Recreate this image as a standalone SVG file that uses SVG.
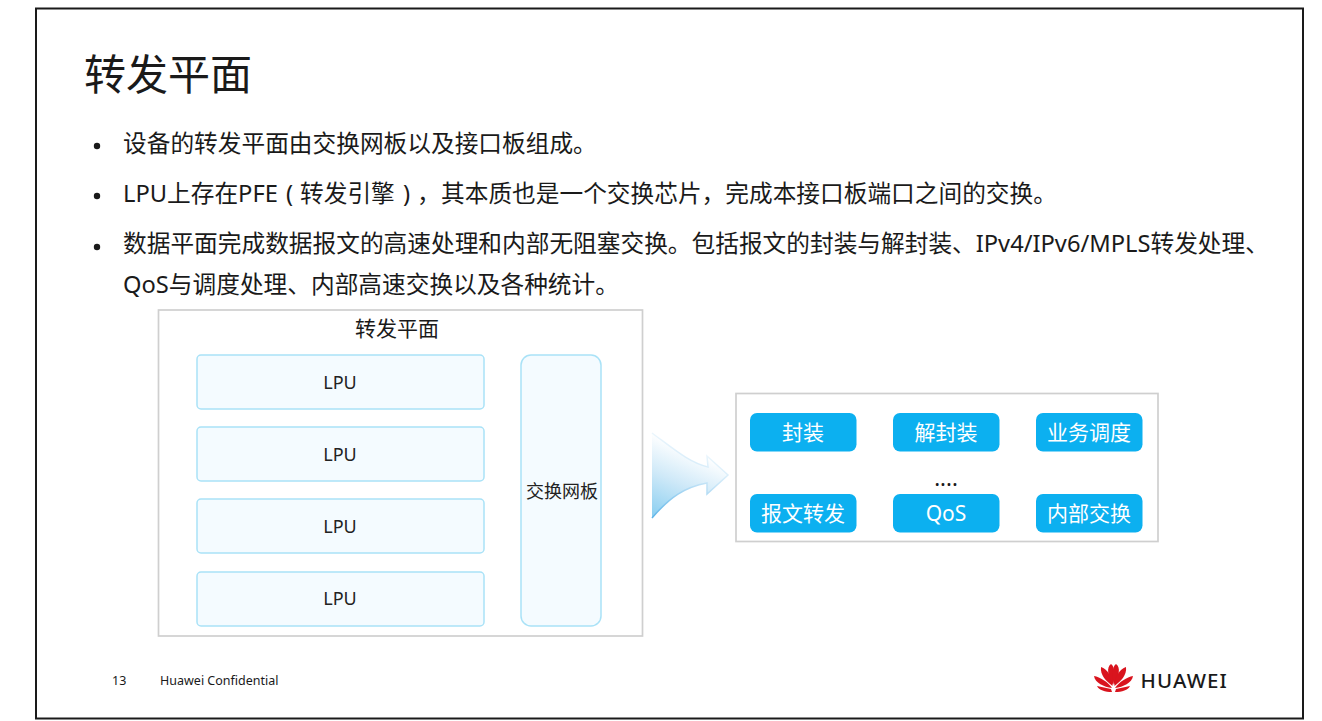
<svg xmlns="http://www.w3.org/2000/svg" width="1322" height="721" viewBox="0 0 1322 721">
<style>
text{font-family:"Noto Sans","Noto Sans CJK SC",sans-serif;fill:#1a1a1a}
.b{font-size:23.700px}
.l{font-size:18px;text-anchor:middle;fill:#222}
.w{font-size:21px;text-anchor:middle;fill:#fff}
.lpu{fill:#f4fbff;stroke:#a9e2f7;stroke-width:1.500}
.g{fill:#fff;stroke:#cfcfcf;stroke-width:1.700}
.bl{fill:#0cb0f0}
.d{fill:#1a1a1a}
</style>
<defs>
<linearGradient id="ag" gradientUnits="userSpaceOnUse" x1="655" y1="520" x2="690" y2="440"><stop offset="0" stop-color="#86cdf0"/><stop offset="0.500" stop-color="#cfe9f8"/><stop offset="0.900" stop-color="#ffffff"/></linearGradient>
<linearGradient id="as" gradientUnits="userSpaceOnUse" x1="655" y1="520" x2="690" y2="435"><stop offset="0" stop-color="#5db4e8"/><stop offset="0.500" stop-color="#b8def5"/><stop offset="0.950" stop-color="#f6fbfe"/></linearGradient>
</defs>
<rect width="1322" height="721" fill="#fff"/>
<rect x="36" y="8.500" width="1267" height="710" fill="#fff" stroke="#1a1a1a" stroke-width="2"/>
<g id="title"><text x="84" y="90" font-size="42">转发平面</text></g>
<g id="bullets">
<circle class="d" cx="97" cy="146" r="3.200"/>
<text class="b" x="123" y="152">设备的转发平面由交换网板以及接口板组成。</text>
<circle class="d" cx="97" cy="196" r="3.200"/>
<text class="b" y="202"><tspan x="123">LPU上存在PFE</tspan><tspan x="286">(</tspan><tspan x="300">转发引擎</tspan><tspan x="403">)</tspan><tspan x="417">，</tspan><tspan x="441">其本质也是一个交换芯片，完成本接口板端口之间的交换。</tspan></text>
<circle class="d" cx="97" cy="247" r="3.200"/>
<text class="b" x="123" y="252">数据平面完成数据报文的高速处理和内部无阻塞交换。包括报文的封装与解封装、IPv4/IPv6/MPLS转发处理、</text>
<text class="b" x="123" y="293">QoS与调度处理、内部高速交换以及各种统计。</text>
</g>
<g id="forwarding-plane"><rect class="g" x="158.500" y="310" width="484" height="326"/><text x="397" y="336" font-size="21" text-anchor="middle" fill="#222">转发平面</text></g>
<g id="lpu-1"><rect class="lpu" x="197" y="355" width="287" height="54" rx="4"/><text class="l" x="340" y="388.500">LPU</text></g>
<g id="lpu-2"><rect class="lpu" x="197" y="427" width="287" height="54" rx="4"/><text class="l" x="340" y="460.500">LPU</text></g>
<g id="lpu-3"><rect class="lpu" x="197" y="499" width="287" height="54" rx="4"/><text class="l" x="340" y="532.500">LPU</text></g>
<g id="lpu-4"><rect class="lpu" x="197" y="572" width="287" height="54" rx="4"/><text class="l" x="340" y="604.500">LPU</text></g>
<g id="fabric"><rect class="lpu" x="521" y="355" width="80" height="271" rx="10"/><text class="l" x="562" y="498">交换网板</text></g>
<g id="connectors"><path d="M652 433C675 450 690 463 708 467L707 456L728 475L707 494L707 483C685 487 670 497 652 518Z" fill="url(#ag)"/><path d="M652 433C675 450 690 463 708 467L707 456L728 475L707 494L707 483C685 487 670 497 652 518" fill="none" stroke="url(#as)" stroke-width="1.500"/></g>
<g id="function-panel"><rect class="g" x="736" y="393.500" width="422" height="148"/><text x="946" y="486" font-size="22" text-anchor="middle" fill="#111">....</text></g>
<g id="encap"><rect class="bl" x="750" y="413" width="106.500" height="38.500" rx="7"/><text class="w" x="803" y="440">封装</text></g>
<g id="decap"><rect class="bl" x="893" y="413" width="106.500" height="38.500" rx="7"/><text class="w" x="946" y="440">解封装</text></g>
<g id="scheduling"><rect class="bl" x="1036" y="413" width="106.500" height="38.500" rx="7"/><text class="w" x="1089" y="440">业务调度</text></g>
<g id="forward"><rect class="bl" x="750" y="494" width="106.500" height="38.500" rx="7"/><text class="w" x="803" y="521">报文转发</text></g>
<g id="qos"><rect class="bl" x="893" y="494" width="106.500" height="38.500" rx="7"/><text class="w" x="946" y="521">QoS</text></g>
<g id="internal"><rect class="bl" x="1036" y="494" width="106.500" height="38.500" rx="7"/><text class="w" x="1089" y="521">内部交换</text></g>
<g id="footer">
<text x="112" y="685" font-size="12.500" fill="#333">13</text>
<text x="160" y="685" font-size="12.500" fill="#333">Huawei Confidential</text>
<g fill="#d9141e">
<path d="M1112 692C1105 692 1099 690 1097 686L1111 689Z"/>
<path d="M1112 688C1104 687 1095 683 1094 676C1100 677 1108 682 1112 688Z"/>
<path d="M1112.500 686C1106 681 1100 675 1101 667C1107 669 1113 677 1112.500 686Z"/>
<path d="M1113 685C1108 677 1106 667 1111 664C1115 666 1115 677 1113 685Z"/>
<path d="M1114 685C1119 677 1121 667 1116 664C1112 666 1112 677 1114 685Z"/>
<path d="M1114.500 686C1114 677 1120 669 1126 667C1127 675 1121 681 1114.500 686Z"/>
<path d="M1115 688C1123 687 1132 683 1133 676C1127 677 1119 682 1115 688Z"/>
<path d="M1115 692C1122 692 1128 690 1130 686L1116 689Z"/>
</g>
<text x="1140.500" y="688" font-size="20.500" font-weight="500" letter-spacing="1.100" fill="#333">HUAWEI</text>
</g>
</svg>
